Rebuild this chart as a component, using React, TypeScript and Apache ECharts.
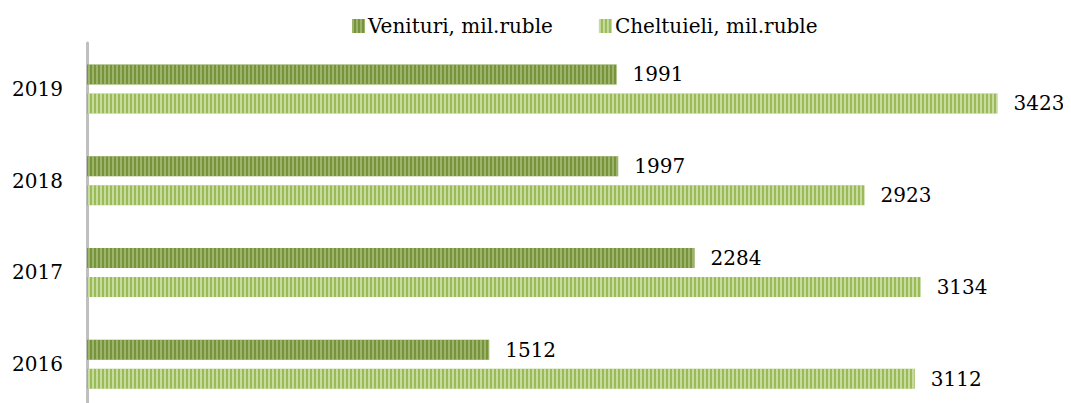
import React, { useEffect, useRef } from "react";
import * as echarts from "echarts";

const years = ["2019", "2018", "2017", "2016"];
const venituri = [1991, 1997, 2284, 1512];
const cheltuieli = [3423, 2923, 3134, 3112];
const seriesNames = ["Venituri, mil.ruble", "Cheltuieli, mil.ruble"];

export default function App() {
  const ref = useRef<HTMLDivElement>(null);
  useEffect(() => {
    const chart = echarts.init(ref.current!, null, { renderer: "svg" });
    const font = "'DejaVu Serif', 'Liberation Serif', serif";
    const stripe = (c: string) => ({
      symbol: "rect",
      symbolSize: 1,
      dashArrayX: [2, 2],
      dashArrayY: [4, 0],
      rotation: 0,
      color: c,
    });
    chart.setOption({
      animation: false,
      legend: {
        data: seriesNames,
        left: 347,
        top: 11,
        itemWidth: 13,
        itemHeight: 14,
        itemGap: 46,
        icon: "rect",
        textStyle: { fontFamily: font, fontSize: 20, color: "#000", padding: [0, 0, 0, -2] },
      },
      grid: { left: 87, top: 43, right: 53, bottom: 10 },
      xAxis: {
        type: "value",
        min: 0,
        max: 3500,
        show: false,
      },
      yAxis: {
        type: "category",
        data: years,
        inverse: true,
        axisLine: { show: true, lineStyle: { color: "#bfbfbf", width: 3 } },
        axisTick: { show: false },
        axisLabel: { fontFamily: font, fontSize: 20, color: "#000", margin: 24 },
      },
      series: [
        {
          name: seriesNames[0],
          type: "bar",
          data: venituri,
          barWidth: 20,
          barGap: "45%",
          itemStyle: { color: "#77933c", decal: stripe("rgba(200,220,160,0.45)") },
          label: {
            show: true,
            position: "right",
            distance: 16,
            fontFamily: font,
            fontSize: 20,
            color: "#000",
          },
        },
        {
          name: seriesNames[1],
          type: "bar",
          data: cheltuieli,
          barWidth: 20,
          barGap: "45%",
          itemStyle: { color: "#9bbb59", decal: stripe("rgba(235,245,215,0.55)") },
          label: {
            show: true,
            position: "right",
            distance: 16,
            fontFamily: font,
            fontSize: 20,
            color: "#000",
          },
        },
      ],
    });
    return () => chart.dispose();
  }, []);
  return <div ref={ref} style={{ width: 1071, height: 420, margin: -8 }} />;
}
